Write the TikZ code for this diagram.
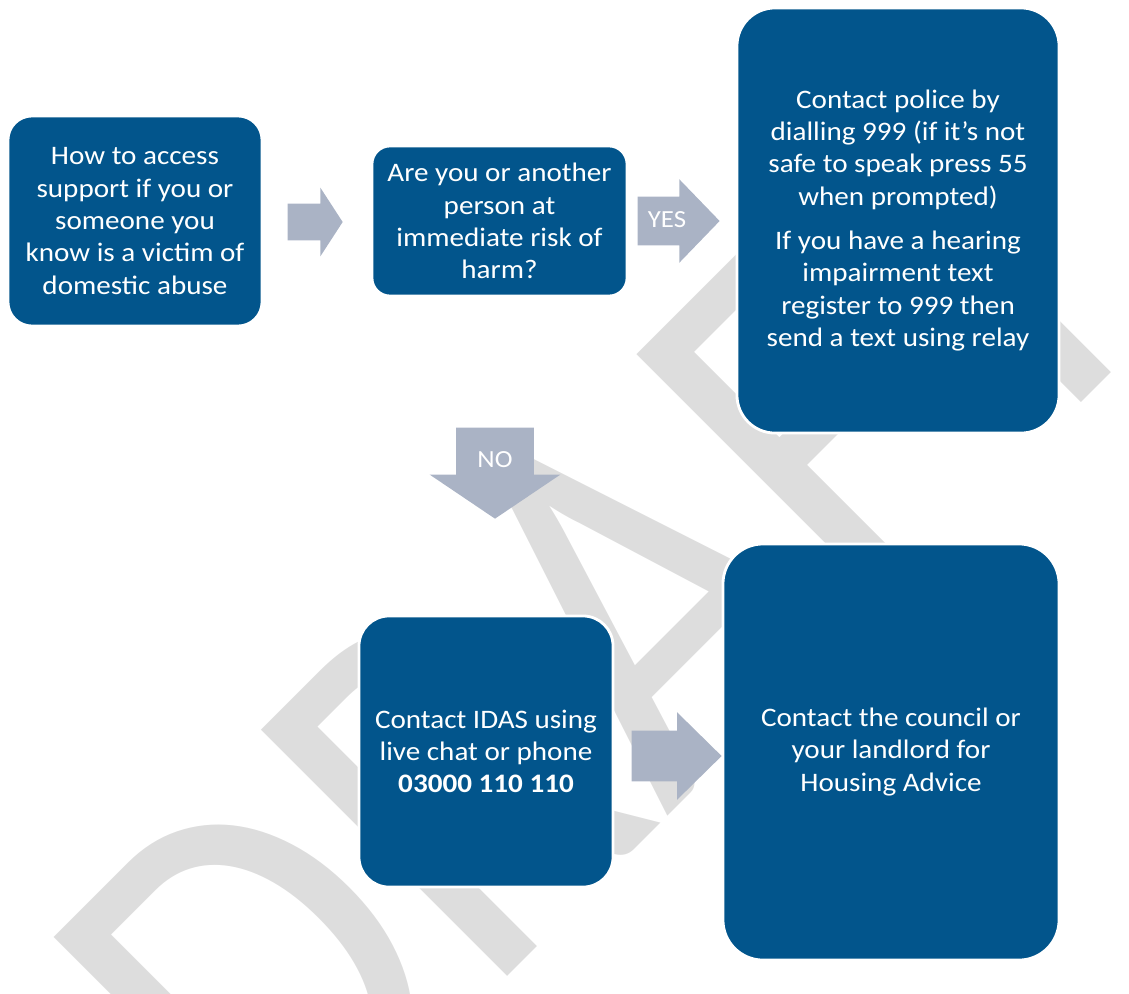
\documentclass[tikz,border=0pt]{standalone}
\usepackage{fontspec}
\setmainfont{Carlito}[FakeStretch=1.09]
\newfontfamily\wmfont{Carlito}[FakeStretch=0.875]
\usetikzlibrary{shapes.arrows}
\definecolor{boxblue}{RGB}{2,85,140}
\definecolor{arrowgrey}{RGB}{170,179,197}
\definecolor{wmgrey}{RGB}{221,221,221}

\begin{document}
\begin{tikzpicture}[x=0.025cm, y=-0.025cm,
    box/.style={draw=white, line width=2pt, fill=boxblue, text=white, align=center,
      font=\fontsize{19pt}{23pt}\selectfont},
    blockarrow/.style={single arrow, fill=arrowgrey, inner xsep=0pt, anchor=tip},
    arrowlabel/.style={text=white, inner sep=0pt, font=\fontsize{17.5pt}{21pt}\selectfont}]
  \useasboundingbox (0,0) rectangle (1129,993);
  \begin{scope}
    \clip (0,0) rectangle (1129,993);
    \node[rotate=45, anchor=base west, inner sep=0pt, text=wmgrey,
      font=\wmfont\fontsize{386pt}{386pt}\selectfont] (draft) at (277,1207) {DRAFT};
  \end{scope}

  \node[box, minimum width=6.35cm, minimum height=5.25cm, rounded corners=0.6cm] (start) at (135,221)
    {How to access\\support if you or\\someone you\\know is a victim of\\domestic abuse};
  \node[box, minimum width=6.375cm, minimum height=3.75cm, rounded corners=0.45cm] (question) at (499.5,221)
    {Are you or another\\person at\\immediate risk of\\harm?};
  \node[box, minimum width=8.05cm, minimum height=10.625cm, rounded corners=0.95cm] (police) at (898,220.5)
    {Contact police by\\dialling 999 (if it's not\\safe to speak press 55\\when prompted)\\[8.5pt]
     If you have a hearing\\impairment text\\register to 999 then\\send a text using relay};
  \node[box, minimum width=6.35cm, minimum height=6.775cm, rounded corners=0.75cm] (idas) at (486,751.5)
    {Contact IDAS using\\live chat or phone\\\textbf{03000 110 110}};
  \node[box, minimum width=8.4cm, minimum height=10.4cm, rounded corners=1cm] (housing) at (891,752)
    {Contact the council or\\your landlord for\\Housing Advice};

  \foreach \name/\tip/\len/\half/\ext/\ang/\rot in {
    arrowone/{(343,222)}/1.375cm/0.45cm/0.4cm/114/0,
    yes/{(720,221)}/2.05cm/0.6cm/0.4375cm/92/0,
    no/{(495,519)}/2.275cm/0.9625cm/0.6625cm/112/-90,
    arrowtwo/{(722,756)}/2.25cm/0.625cm/0.4625cm/89/0} {
    \node[blockarrow, minimum height=\len, inner ysep=\half, single arrow head extend=\ext,
      single arrow tip angle=\ang, rotate=\rot] (\name) at \tip {};
  }
  \node[arrowlabel] (yeslabel) at (667,220) {YES};
  \node[arrowlabel] (nolabel) at (495,460) {NO};
\end{tikzpicture}
\end{document}
